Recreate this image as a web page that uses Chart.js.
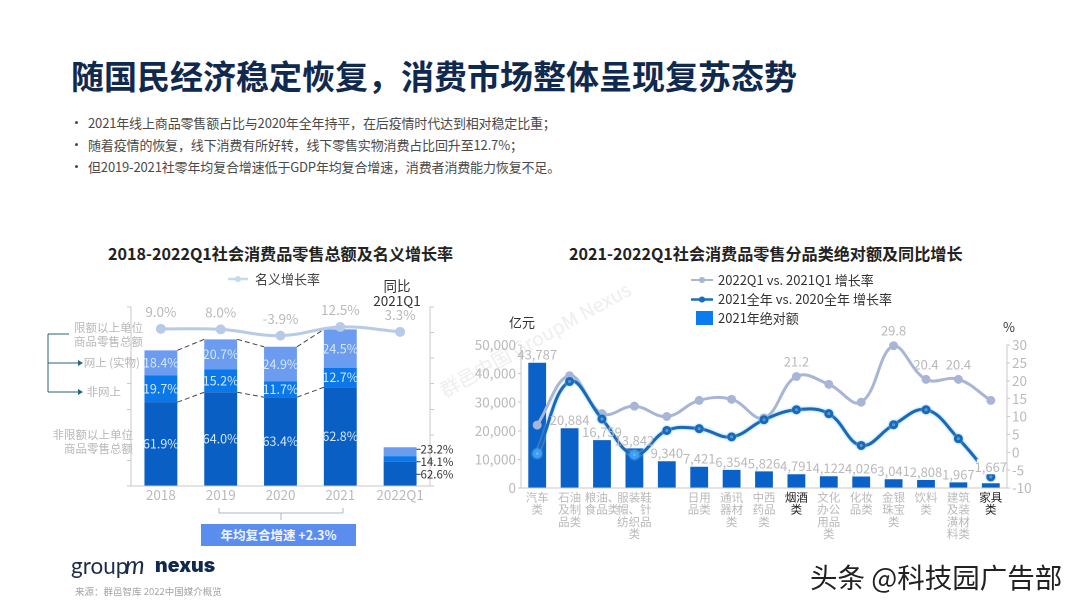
<!DOCTYPE html>
<html lang="zh">
<head>
<meta charset="utf-8">
<title>消费市场</title>
<script src="https://cdn.jsdelivr.net/npm/chart.js@4/dist/chart.umd.min.js"></script>
<style>
  html, body { margin: 0; padding: 0; background: #fff; }
  body { width: 1080px; height: 608px; position: relative; overflow: hidden; font-family: "Noto Sans CJK SC", "Noto Sans", sans-serif; }
  .t { position: absolute; white-space: nowrap; line-height: 1; }
  .gray { color: #b9b9b9; font-size: 11.5px; text-align: right; }
  .dot { width: 3px; height: 3px; border-radius: 50%; background: #444; position: absolute; left: 75px; }
  canvas { position: absolute; display: block; }
  svg { position: absolute; left: 0; top: 0; }
</style>
</head>
<body>

<div class="t" style="left:71px;top:59px;font-size:33px;font-weight:700;color:#10294f;">随国民经济稳定恢复，消费市场整体呈现复苏态势</div>

<div class="dot" style="top:121px;"></div>
<div class="dot" style="top:143px;"></div>
<div class="dot" style="top:165px;"></div>
<div class="t" style="left:88px;top:116px;font-size:13px;color:#4a4a4a;letter-spacing:-0.15px;">2021年线上商品零售额占比与2020年全年持平，在后疫情时代达到相对稳定比重；</div>
<div class="t" style="left:88px;top:138px;font-size:13px;color:#4a4a4a;letter-spacing:-0.15px;">随着疫情的恢复，线下消费有所好转，线下零售实物消费占比回升至12.7%；</div>
<div class="t" style="left:88px;top:160px;font-size:13px;color:#4a4a4a;letter-spacing:-0.15px;">但2019-2021社零年均复合增速低于GDP年均复合增速，消费者消费能力恢复不足。</div>

<div class="t" style="left:108px;top:245px;font-size:16.1px;font-weight:700;color:#222;">2018-2022Q1社会消费品零售总额及名义增长率</div>
<div class="t" style="left:569px;top:245px;font-size:16.1px;font-weight:700;color:#222;">2021-2022Q1社会消费品零售分品类绝对额及同比增长</div>

<div class="t" style="left:441px;top:381px;font-size:19.5px;color:#efefef;transform:rotate(-29deg);transform-origin:0 50%;">群邑中国 GroupM Nexus</div>

<canvas id="totalChart" style="left:40px;top:290px;width:420px;height:218px;"></canvas>
<canvas id="categoryChart" style="left:470px;top:310px;width:580px;height:240px;"></canvas>

<svg width="1080" height="608">
  <g fill="none" stroke="#2a6374" stroke-width="1">
    <path d="M69 334H48V392H80"/>
    <path d="M48 363H80"/>
  </g>
  <path d="M83 363l-5-3v6zM83 392l-5-3v6z" fill="#1f6a7c"/>
  <path d="M219 508v5H343v-5M281 513v7" fill="none" stroke="#a9b7c6" stroke-width="1"/>
  <!-- legend samples -->
  <path d="M228 279H248" stroke="#c6d9f0" stroke-width="2.5"/><circle cx="238" cy="279" r="3" fill="#c6d9f0"/>
  <path d="M691 280H713" stroke="#a9b5d6" stroke-width="2"/><circle cx="702" cy="280" r="3" fill="#a9b5d6"/>
  <path d="M691 299.500H713" stroke="#1c6db8" stroke-width="2.500"/><circle cx="702" cy="299.500" r="3" fill="#1c6db8"/>
  <rect x="696" y="311" width="17" height="14" fill="#0a7cf0"/>
</svg>

<div class="t" style="left:255px;top:272px;font-size:13px;color:#444;">名义增长率</div>
<div class="t" style="left:718px;top:273px;font-size:13px;color:#333;">2022Q1 vs. 2021Q1 增长率</div>
<div class="t" style="left:718px;top:292px;font-size:13px;color:#333;">2021全年 vs. 2020全年 增长率</div>
<div class="t" style="left:718px;top:311px;font-size:13px;color:#333;">2021年绝对额</div>

<div class="t" style="left:367px;top:278px;width:60px;text-align:center;font-size:13.5px;line-height:15px;color:#333;white-space:normal;">同比<br>2021Q1</div>

<div class="t gray" style="left:60px;top:321px;width:83px;line-height:13.5px;">限额以上单位<br>商品零售总额</div>
<div class="t gray" style="left:80px;top:357px;width:60px;">网上 (实物)</div>
<div class="t gray" style="left:80px;top:386px;width:41px;">非网上</div>
<div class="t gray" style="left:50px;top:428px;width:83px;line-height:13.5px;">非限额以上单位<br>商品零售总额</div>

<div class="t" style="left:201px;top:524px;width:155px;height:22px;line-height:22px;background:#5b8def;color:#eef4ff;font-size:12.5px;font-weight:700;text-align:center;">年均复合增速 +2.3%</div>

<div class="t" style="left:509px;top:315px;font-size:13px;color:#333;">亿元</div>
<div class="t" style="left:1003px;top:320px;font-size:13px;color:#333;">%</div>

<div class="t" style="left:71px;top:555px;font-family:Lato,sans-serif;font-size:22.5px;color:#1c2c4a;">group</div>
<div class="t" style="left:125px;top:552px;font-family:Lato,sans-serif;font-size:25px;font-style:italic;color:#1c2c4a;">m</div>
<div class="t" style="left:155px;top:556px;font-family:Inter,sans-serif;font-size:19.5px;font-weight:900;color:#10294f;">nexus</div>
<div class="t" style="left:75px;top:587px;font-size:9.5px;color:#a5a5a5;">来源：群邑智库 2022中国媒介概览</div>

<div class="t" style="left:810px;top:563px;font-size:27.5px;color:#222;">头条 @科技园广告部</div>

<script>
// =========================
// DATA
// =========================

var yearLabels = ["2018", "2019", "2020", "2021", "2022Q1"];
var offlineValues = [23.6, 26.4, 25.0, 27.8, 6.8];
var onlineOtherValues = [7.6, 6.4, 4.5, 5.5, 1.6];
var onlineTopValues = [7.0, 8.5, 9.7, 10.8, 2.5];
var growthValues = [9.0, 8.0, -3.9, 12.5, 3.3];
var growthLabels = ["9.0%", "8.0%", "-3.9%", "12.5%", "3.3%"];
var offlineShares = ["61.9%", "64.0%", "63.4%", "62.8%", "62.6%"];
var onlineOtherShares = ["19.7%", "15.2%", "11.7%", "12.7%", "14.1%"];
var onlineTopShares = ["18.4%", "20.7%", "24.9%", "24.5%", "23.2%"];

var categoryLabels = [
  ["汽车", "类"], ["石油", "及制", "品类"], ["粮油、", "食品类"], ["服装鞋", "帽、针", "纺织品", "类"], "",
  ["日用", "品类"], ["通讯", "器材", "类"], ["中西", "药品", "类"], ["烟酒", "类"],
  ["文化", "办公", "用品", "类"], ["化妆", "品类"], ["金银", "珠宝", "类"], ["饮料", "类"],
  ["建筑", "及装", "潢材", "料类"], ["家具", "类"]
];
var amountValues = [43787, 20884, 16759, 13842, 9340, 7421, 6354, 5826, 4791, 4122, 4026, 3041, 2808, 1967, 1667];
var growth2022Values = [7.6, 21.4, 10.8, 12.9, 10.0, 14.5, 14.8, 9.6, 21.2, 19.0, 14.0, 29.8, 20.4, 20.4, 14.5];
var growth2021Values = [-0.4, 19.8, 9.3, -0.7, 6.1, 6.6, 4.3, 9.1, 11.9, 10.8, 1.9, 7.7, 11.9, 3.8, -6.9];
var growth2022Labels = ["", "", "", "", "", "", "", "", "21.2", "", "", "29.8", "20.4", "20.4", ""];
var darkTickIndexes = [8, 14];
var pointsOverBars = [0, 3];

var axisColor = "#cbc8c5";
var labelGray = "#b9b9b9";
var fontName = '"Noto Sans CJK SC", "Noto Sans", sans-serif';

function drawText(ctx, text, x, y, color, size, align) {
  ctx.fillStyle = color;
  ctx.font = size + "px " + fontName;
  ctx.textAlign = align || "center";
  ctx.textBaseline = "middle";
  ctx.fillText(text, x, y);
}

// =========================
// TOTAL RETAIL CHART
// =========================

var totalPlugin = {
  id: "totalPlugin",
  afterDatasetsDraw: function (chart) {
    var ctx = chart.ctx;
    var bottom = chart.getDatasetMeta(0).data;
    var middle = chart.getDatasetMeta(1).data;
    var top = chart.getDatasetMeta(2).data;
    var line = chart.getDatasetMeta(3).data;

    // dashed links between the bars
    ctx.save();
    ctx.strokeStyle = "#444";
    ctx.lineWidth = 1;
    ctx.setLineDash([5, 3]);
    [bottom, top].forEach(function (bars) {
      for (var i = 0; i < 3; i++) {
        ctx.beginPath();
        ctx.moveTo(bars[i].x + bars[i].width / 2, bars[i].y);
        ctx.lineTo(bars[i + 1].x - bars[i + 1].width / 2, bars[i + 1].y);
        ctx.stroke();
      }
    });
    ctx.restore();

    for (var i = 0; i < 4; i++) {
      drawText(ctx, offlineShares[i], bottom[i].x, (bottom[i].y + bottom[i].base) / 2, "#d4e8ff", 12.5);
      drawText(ctx, onlineOtherShares[i], middle[i].x, (middle[i].y + middle[i].base) / 2, "#d4e8ff", 12.5);
      drawText(ctx, onlineTopShares[i], top[i].x, (top[i].y + top[i].base) / 2, "#d4e8ff", 12.5);
    }
    for (var j = 0; j < line.length; j++) {
      drawText(ctx, growthLabels[j], line[j].x, line[j].y - 17, labelGray, 13.5);
    }

    // 2022Q1 is too short for inner labels
    var last = top[4];
    var edge = last.x + last.width / 2;
    var sideLabels = [onlineTopShares[4], onlineOtherShares[4], offlineShares[4]];
    ctx.strokeStyle = "#333";
    ctx.lineWidth = 1;
    for (var k = 0; k < 3; k++) {
      var labelY = last.y + 2 + k * 12.5;
      ctx.beginPath();
      ctx.moveTo(edge, labelY);
      ctx.lineTo(edge + 4, labelY);
      ctx.stroke();
      drawText(ctx, sideLabels[k], edge + 4, labelY, "#333", 11.5, "left");
    }
  }
};

new Chart(document.getElementById("totalChart"), {
  type: "bar",
  data: {
    labels: yearLabels,
    datasets: [
      { data: offlineValues, backgroundColor: "#0a5fc4", stack: "total", order: 2 },
      { data: onlineOtherValues, backgroundColor: "#0b78ea", stack: "total", order: 2 },
      { data: onlineTopValues, backgroundColor: "#6b9cf0", stack: "total", order: 2 },
      {
        type: "line",
        data: growthValues,
        yAxisID: "y2",
        borderColor: "#b7cae8",
        backgroundColor: "#b7cae8",
        borderWidth: 3,
        pointRadius: 3.5,
        tension: 0.4,
        clip: false,
        order: 1,
      },
    ],
  },
  options: {
    responsive: false,
    animation: false,
    devicePixelRatio: 2,
    layout: { padding: { left: 87, right: 26, top: 17, bottom: 0 } },
    datasets: { bar: { categoryPercentage: 1, barPercentage: 0.55 } },
    plugins: { legend: { display: false }, tooltip: { enabled: false } },
    scales: {
      x: {
        stacked: true,
        grid: { display: false, drawTicks: false },
        border: { color: axisColor },
        afterFit: function (scale) { scale.height = 22; },
        ticks: { color: labelGray, font: { size: 13.5, family: fontName }, padding: 1 },
      },
      y: {
        stacked: true,
        min: 0,
        max: 50.4,
        ticks: { display: false, stepSize: 7.2 },
        grid: { drawOnChartArea: false, tickLength: 4, color: axisColor },
        border: { color: axisColor },
      },
      y2: {
        position: "right",
        min: -289,
        max: 50.4,
        ticks: { display: false, count: 8 },
        grid: { drawOnChartArea: false, tickLength: 4, color: axisColor },
        border: { color: axisColor },
      },
    },
  },
  plugins: [totalPlugin],
});

// =========================
// CATEGORY CHART
// =========================

var categoryPlugin = {
  id: "categoryPlugin",
  beforeDatasetDraw: function (chart, args) {
    if (args.index === 2) {
      chart.ctx.save();
      chart.ctx.shadowColor = "#79c6ff";
      chart.ctx.shadowBlur = 5;
    }
  },
  afterDatasetDraw: function (chart, args) {
    if (args.index === 2) {
      chart.ctx.restore();
    }
  },
  afterDatasetsDraw: function (chart) {
    var ctx = chart.ctx;
    var bars = chart.getDatasetMeta(0).data;
    var light = chart.getDatasetMeta(1).data;

    // the last label sits on a white patch that hides the line behind it
    var lastBar = bars[bars.length - 1];
    ctx.fillStyle = "#fff";
    ctx.fillRect(lastBar.x - 14, lastBar.y - 24, 28, 15);

    for (var i = 0; i < bars.length; i++) {
      var gap = i === bars.length - 1 ? 16 : 8;
      drawText(ctx, amountValues[i].toLocaleString("en-US"), bars[i].x, bars[i].y - gap, labelGray, 13);
      if (growth2022Labels[i]) {
        drawText(ctx, growth2022Labels[i], light[i].x, light[i].y - 15, labelGray, 13);
      }
    }
  },
};

new Chart(document.getElementById("categoryChart"), {
  type: "bar",
  data: {
    labels: categoryLabels,
    datasets: [
      {
        data: amountValues,
        backgroundColor: "#0a62c8",
        categoryPercentage: 1,
        barPercentage: 0.55,
        order: 3,
      },
      {
        type: "line",
        data: growth2022Values,
        yAxisID: "y2",
        borderColor: "#a9b5d6",
        backgroundColor: "#a9b5d6",
        borderWidth: 3,
        pointRadius: 3,
        tension: 0.4,
        clip: false,
        order: 2,
      },
      {
        type: "line",
        data: growth2021Values,
        yAxisID: "y2",
        borderColor: "#1c68b4",
        backgroundColor: "#1c68b4",
        borderWidth: 3,
        pointRadius: 3,
        pointBorderColor: function (context) {
          return pointsOverBars.indexOf(context.dataIndex) >= 0 ? "#3f9df0" : "#1c68b4";
        },
        pointBackgroundColor: function (context) {
          return pointsOverBars.indexOf(context.dataIndex) >= 0 ? "#3f9df0" : "#1c68b4";
        },
        tension: 0.4,
        clip: false,
        order: 1,
      },
    ],
  },
  options: {
    responsive: false,
    animation: false,
    devicePixelRatio: 2,
    layout: { padding: { top: 35 } },
    plugins: { legend: { display: false }, tooltip: { enabled: false } },
    scales: {
      x: {
        grid: { display: false, drawTicks: false },
        border: { color: axisColor },
        afterFit: function (scale) { scale.height = 62; },
        ticks: {
          autoSkip: false,
          maxRotation: 0,
          padding: 3,
          font: { size: 11.5, family: fontName, lineHeight: 1.06 },
          color: function (context) {
            return darkTickIndexes.indexOf(context.index) >= 0 ? "#222" : labelGray;
          },
        },
      },
      y: {
        min: 0,
        max: 50000,
        afterFit: function (scale) { scale.width = 51; },
        grid: { drawOnChartArea: false, tickLength: 3, color: axisColor },
        border: { color: axisColor },
        ticks: { stepSize: 10000, padding: 2, color: labelGray, font: { size: 13.5, family: fontName } },
      },
      y2: {
        position: "right",
        min: -10,
        max: 30,
        afterFit: function (scale) { scale.width = 43; },
        grid: { drawOnChartArea: false, tickLength: 3, color: axisColor },
        border: { color: axisColor },
        ticks: { stepSize: 5, autoSkip: false, padding: 2, color: labelGray, font: { size: 13.5, family: fontName } },
      },
    },
  },
  plugins: [categoryPlugin],
});
</script>
</body>
</html>
